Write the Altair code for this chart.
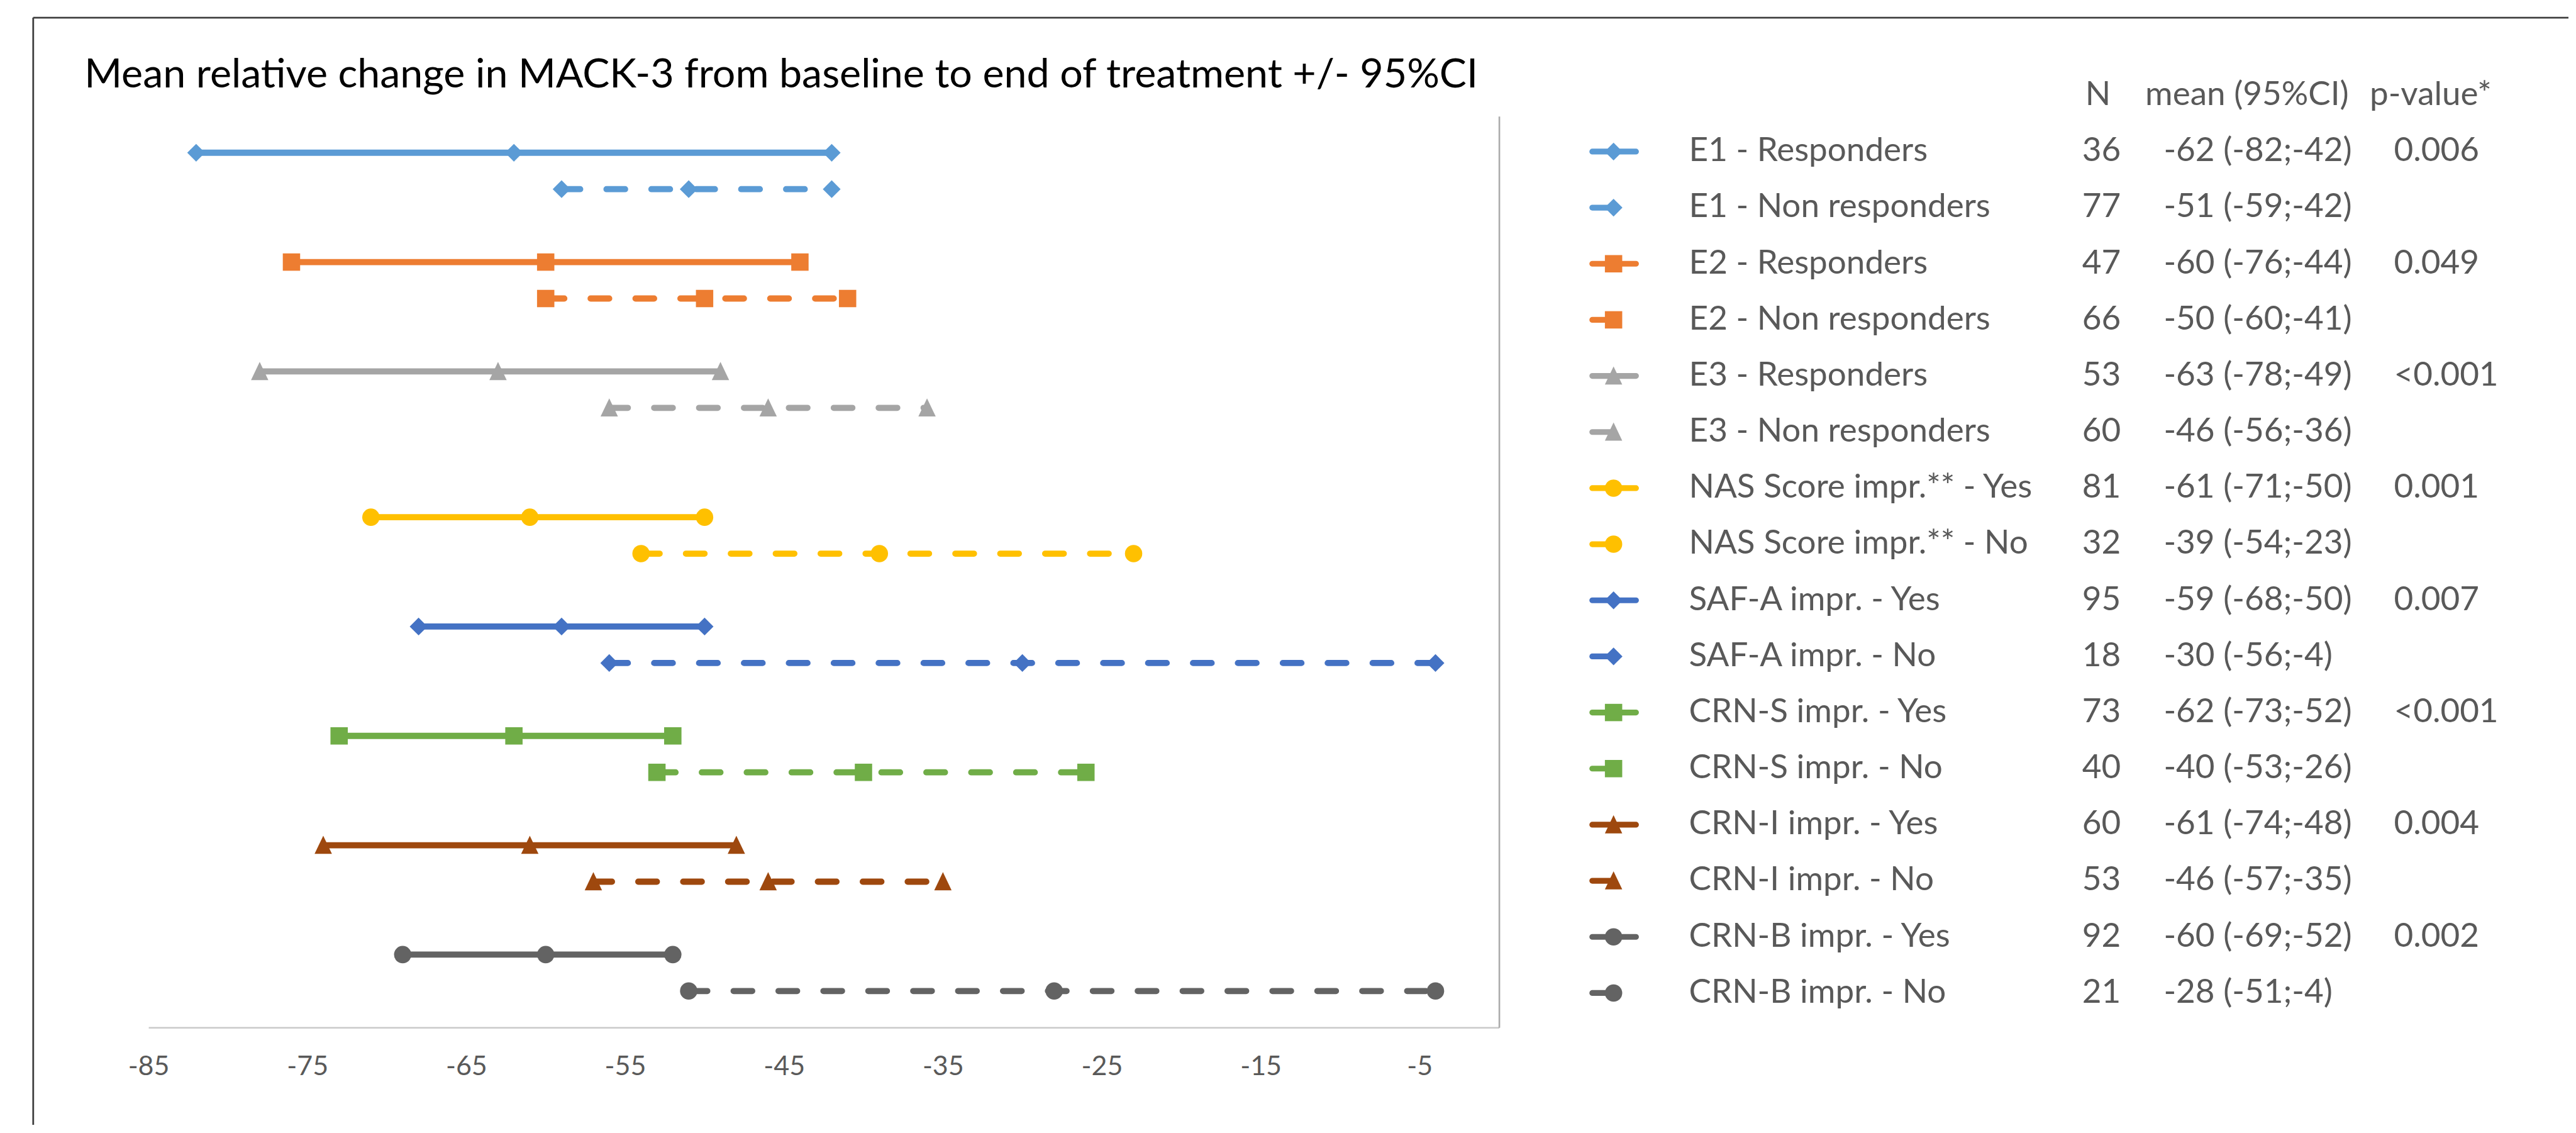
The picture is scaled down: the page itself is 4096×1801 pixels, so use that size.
import altair as alt
import pandas as pd

# ---------------- data ----------------
TITLE = "Mean relative change in MACK-3 from baseline to end of treatment +/- 95%CI"
LABELS = [
    "E1 - Responders", "E1 - Non responders",
    "E2 - Responders", "E2 - Non responders",
    "E3 - Responders", "E3 - Non responders",
    "NAS Score impr.** - Yes", "NAS Score impr.** - No",
    "SAF-A impr. - Yes", "SAF-A impr. - No",
    "CRN-S impr. - Yes", "CRN-S impr. - No",
    "CRN-I impr. - Yes", "CRN-I impr. - No",
    "CRN-B impr. - Yes", "CRN-B impr. - No",
]
N_VALUES = [36, 77, 47, 66, 53, 60, 81, 32, 95, 18, 73, 40, 60, 53, 92, 21]
MEAN = [-62, -51, -60, -50, -63, -46, -61, -39, -59, -30, -62, -40, -61, -46, -60, -28]
LOWER = [-82, -59, -76, -60, -78, -56, -71, -54, -68, -56, -73, -53, -74, -57, -69, -51]
UPPER = [-42, -42, -44, -41, -49, -36, -50, -23, -50, -4, -52, -26, -48, -35, -52, -4]
P_VALUES = ["0.006", "", "0.049", "", "<0.001", "", "0.001", "", "0.007", "", "<0.001", "",
            "0.004", "", "0.002", ""]
Y_POS = [24, 23, 21, 20, 18, 17, 14, 13, 11, 10, 8, 7, 5, 4, 2, 1]
GROUP_COLORS = ["#5B9BD5", "#ED7D31", "#A5A5A5", "#FFC000", "#4472C4", "#70AD47", "#9E480E", "#636363"]
GROUP_MARKERS = ["diamond", "square", "triangle", "circle", "diamond", "square", "triangle", "circle"]
X_TICKS = [-85, -75, -65, -55, -45, -35, -25, -15, -5]
HEADERS = ["N", "mean (95%CI)", "p-value*"]

# ---------------- layout (reference pixels scaled) ----------------
S = 0.915
PX0, PY0 = 258 * S, 202 * S            # plot origin on page
W = (2605 - 258) * S
H = (1785 - 202) * S


def rx(v):
    return v * S - PX0


def ry(v):
    return v * S - PY0


FONT = "Lato"
TXT = "#595959"
LW = 9.8
DASH = [29.6, 41.8]
SHAPES = {"diamond": "diamond", "square": "square", "triangle": "M0,-1.1L1,1L-1,1Z", "circle": "circle"}
SIZES = {"diamond": 800, "square": 760, "triangle": 760, "circle": 760}

series_colors = [GROUP_COLORS[i // 2] for i in range(len(LABELS))]

rows = []
for i, lab in enumerate(LABELS):
    style = "solid" if i % 2 == 0 else "dash"
    for v in (LOWER[i], MEAN[i], UPPER[i]):
        rows.append({"series": lab, "v": v, "y": Y_POS[i], "style": style,
                     "marker": GROUP_MARKERS[i // 2]})
df = pd.DataFrame(rows)

leg = pd.DataFrame({
    "row": list(range(len(LABELS))),
    "series": LABELS,
    "label": LABELS,
    "n": [str(n) for n in N_VALUES],
    "ci": [f"{m} ({l};{u})" for m, l, u in zip(MEAN, LOWER, UPPER)],
    "p": P_VALUES,
    "style": ["solid" if i % 2 == 0 else "dash" for i in range(len(LABELS))],
    "marker": [GROUP_MARKERS[i // 2] for i in range(len(LABELS))],
})
head = pd.DataFrame({"row": [-1], "n": [HEADERS[0]], "ci": [HEADERS[1]], "p": [HEADERS[2]]})

color_enc = alt.Color("series:N", scale=alt.Scale(domain=LABELS, range=series_colors), legend=None)
dash_enc = alt.StrokeDash("style:N", scale=alt.Scale(domain=["solid", "dash"], range=[[1, 0], DASH]),
                          legend=None)

x_enc = alt.X("v:Q", scale=alt.Scale(domain=[-85, 0], nice=False, zero=False),
              axis=alt.Axis(values=X_TICKS, title=None, grid=False, ticks=False, tickSize=0,
                            labelFont=FONT, labelFontSize=43, labelColor=TXT, labelPadding=41,
                            labelFlush=False, labelOverlap=False, labelExpr="datum.value + ''",
                            domainColor="#C9C9C9", domainWidth=2.6))
y_scale = alt.Scale(domain=[0, 25], nice=False, zero=False)

row0 = 263.3 * S - PY0
step = 97.45 * S
LEG_Y = alt.Scale(domain=[(H - row0) / step, -row0 / step], nice=False, zero=False)
DY = (280 - 263.3) * S

one = pd.DataFrame({"a": [0]})

frame_top = alt.Chart(one).mark_rule(color="#404040", strokeWidth=2.8).encode(
    x=alt.value(rx(57.7)), x2=alt.value(rx(57.7) + 6000), y=alt.value(ry(30.7)))
frame_left = alt.Chart(one).mark_rule(color="#404040", strokeWidth=2.8).encode(
    x=alt.value(rx(57.7)), y=alt.value(ry(30.7)), y2=alt.value(ry(30.7) + 4000))

title = alt.Chart(pd.DataFrame({"t": [TITLE]})).mark_text(
    align="left", baseline="alphabetic", font=FONT, fontSize=64.5, color="#000000"
).encode(text="t:N", x=alt.value(rx(146.7)), y=alt.value(ry(151.7)))

lines = alt.Chart(df).mark_line(strokeWidth=LW, strokeCap="round").encode(
    x=x_enc,
    y=alt.Y("y:Q", scale=y_scale,
            axis=alt.Axis(orient="right", labels=False, ticks=False, grid=False, title=None,
                          domainColor="#ABABAB", domainWidth=2.6)),
    color=color_enc, strokeDash=dash_enc, detail="series:N")

layers = [frame_top, frame_left, title, lines]
for m in ["diamond", "square", "triangle", "circle"]:
    layers.append(
        alt.Chart(df).transform_filter(alt.datum.marker == m).mark_point(
            shape=SHAPES[m], size=SIZES[m], filled=True, opacity=1, strokeWidth=0
        ).encode(x=x_enc, y=alt.Y("y:Q", scale=y_scale, axis=None), color=color_enc))

# legend samples
layers.append(alt.Chart(leg).mark_rule(strokeWidth=9.2, strokeCap="round").encode(
    x=alt.value(rx(2767)), x2=alt.value(rx(2843)),
    y=alt.Y("row:Q", scale=LEG_Y, axis=None), color=color_enc, strokeDash=dash_enc))
for m in ["diamond", "square", "triangle", "circle"]:
    layers.append(
        alt.Chart(leg).transform_filter(alt.datum.marker == m).mark_point(
            shape=SHAPES[m], size=SIZES[m], filled=True, opacity=1, strokeWidth=0
        ).encode(x=alt.value(rx(2804)), y=alt.Y("row:Q", scale=LEG_Y, axis=None), color=color_enc))


def txt(data, field, x, align):
    return alt.Chart(data).mark_text(
        align=align, baseline="alphabetic", dy=DY, font=FONT, fontSize=53, color=TXT
    ).encode(x=alt.value(x), y=alt.Y("row:Q", scale=LEG_Y, axis=None), text=f"{field}:N")


layers += [
    txt(leg, "label", rx(2935), "left"),
    txt(leg, "n", rx(3652), "center"),
    txt(leg, "ci", rx(3760), "left"),
    txt(leg, "p", rx(4160), "left"),
    txt(head, "n", rx(3646), "center"),
    txt(head, "ci", rx(3728), "left"),
    txt(head, "p", rx(4118), "left"),
]

PAD_L = PX0 - 8
PAD_T = PY0 - 8
chart = alt.layer(*layers).resolve_scale(y="independent").properties(
    width=W, height=H,
    autosize=alt.AutoSizeParams(type="none"),
    padding={"left": PAD_L, "top": PAD_T, "right": 4076 - PAD_L - W, "bottom": 1780 - PAD_T - H},
    background="white",
).configure_view(stroke=None)

chart.save("out.html", embed_options={"renderer": "svg", "actions": False})
